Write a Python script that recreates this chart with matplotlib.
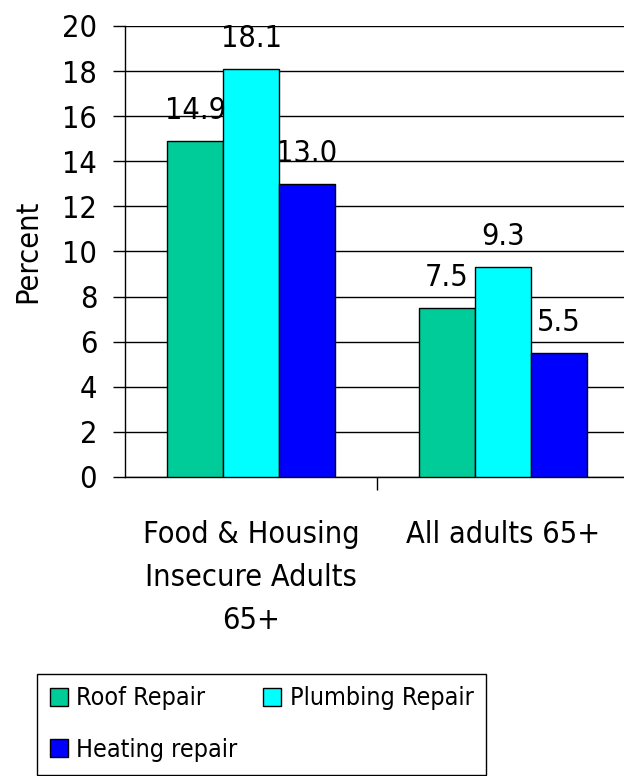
import matplotlib.pyplot as plt
import numpy as np

categories = ['Food & Housing\nInsecure Adults\n65+', 'All adults 65+']
series_names = ['Roof Repair', 'Plumbing Repair', 'Heating repair']
roof = [14.9, 7.5]
plumbing = [18.1, 9.3]
heating = [13.0, 5.5]
colors = ['#00CC99', '#00FFFF', '#0000FF']

plt.rcParams['font.family'] = ['Liberation Sans Narrow', 'DejaVu Sans']
plt.rcParams['font.stretch'] = 'condensed'
fs = 22

fig = plt.figure(figsize=(6.24, 7.76), dpi=100)
ax = fig.add_axes([125 / 624, 299 / 776, 504 / 624, 451 / 776])

x = np.arange(len(categories))
w = 0.222
handles = []
for i, (vals, name) in enumerate(zip([roof, plumbing, heating], series_names)):
    bars = ax.bar(x + (i - 1) * w, vals, w, color=colors[i], edgecolor='black',
                  linewidth=1, label=name, zorder=3)
    handles.append(bars)
    for b, v in zip(bars, vals):
        ax.annotate(f'{v:.1f}', (b.get_x() + b.get_width() / 2, v),
                    xytext=(0, 16), textcoords='offset points',
                    ha='center', va='baseline', fontsize=fs, zorder=4)

ax.set_xlim(-0.5, 1.5)
ax.set_ylim(0, 20)
ax.set_yticks(range(0, 21, 2))
ax.yaxis.grid(True, color='black', linewidth=1, zorder=0)
ax.set_xticks([0.5])
ax.set_xticklabels([])
ax.tick_params(axis='x', length=9, width=1, direction='out')
ax.tick_params(axis='y', length=9, width=1, direction='out', labelsize=fs, pad=11)
for s in ['top', 'right']:
    ax.spines[s].set_visible(False)
for s in ['left', 'bottom']:
    ax.spines[s].set_linewidth(1)

for xi, lab in zip(x, categories):
    ax.text(xi, -1.9, lab, ha='center', va='top', fontsize=fs, linespacing=1.62,
            transform=ax.transData)

ax.set_ylabel('Percent', fontsize=fs, labelpad=14)

# row-major legend order: Roof, Plumbing / Heating
order = [0, 2, 1]
leg = fig.legend(handles=[handles[k] for k in order],
                 labels=[series_names[k] for k in order], ncol=2, loc='upper left',
                 bbox_to_anchor=(37 / 624, 1 - 674 / 776), fontsize=18,
                 frameon=True, fancybox=False, edgecolor='black', framealpha=1,
                 handlelength=0.72, handleheight=0.72, handletextpad=0.36,
                 columnspacing=1.0, borderpad=0.5, labelspacing=1.1,
                 borderaxespad=0)
leg.get_frame().set_linewidth(1)

fig.savefig('out.png', dpi=100)
